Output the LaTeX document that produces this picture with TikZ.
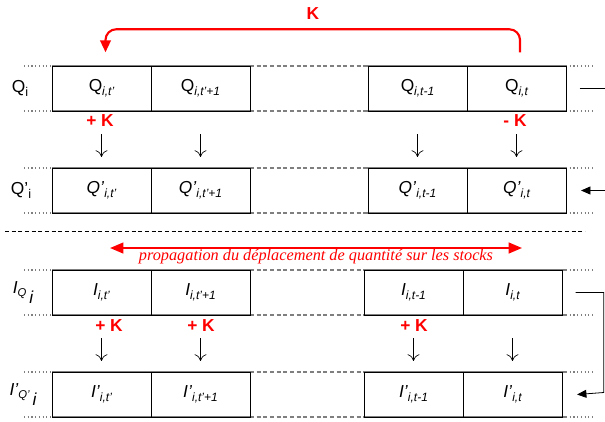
\documentclass[tikz,border=0pt]{standalone}
\usepackage{fontspec}
\setmainfont{Liberation Sans}
\newfontfamily\propfont{Liberation Serif}
\usetikzlibrary{arrows.meta, positioning}
\definecolor{kred}{HTML}{FF0000}
\definecolor{lgrey}{HTML}{7F7F7F}
\newcommand{\sub}[1]{\raisebox{-0.45ex}{\fontsize{9}{10}\selectfont\itshape #1}}
\tikzset{
  every picture/.style={line width=0.6pt},
  cell/.style={draw, minimum width=74.25pt, minimum height=33.75pt, inner sep=0pt, font=\fontsize{13}{15}\selectfont},
  rail/.style={draw=lgrey, line width=0.8pt},
  gap/.style={rail, dashed, dash pattern=on 3pt off 2pt},
  stub/.style={rail, dotted},
  down/.style={-{To[length=5pt, width=9pt]}, line width=0.5pt},
  knote/.style={text=kred, font=\fontsize{13}{15}\selectfont\bfseries},
  rlabel/.style={font=\fontsize{13}{15}\selectfont},
  loop/.style={-{Triangle[length=7pt, width=6pt]}, line width=0.6pt},
}
\begin{document}
\begin{tikzpicture}[x=0.75pt, y=-0.75pt]
  \useasboundingbox (0,0) rectangle (605,421);
  % rails of the four rows
  \foreach \t in {66,168,270,372} {
    \foreach \y in {\t,\t+45} {
      \draw[stub] (24,\y) -- (52,\y);
      \draw[rail] (52,\y) -- (250,\y);
      \draw[gap] (250,\y) -- (366,\y);
      \draw[rail] (366,\y) -- (566,\y);
      \draw[stub] (566,\y) -- (593,\y);
    }
  }
  % cells of the upper part
  \node[cell] (q1) at (101.5,88.5) {Q\sub{i,t'}};
  \node[cell] (q2) at (200.5,88.5) {Q\sub{i,t'+1}};
  \node[cell] (q3) at (417.5,88.5) {Q\sub{i,t-1}};
  \node[cell] (q4) at (516.5,88.5) {Q\sub{i,t}};
  \node[cell] (qp1) at (101.5,190.5) {\textit{Q’}\sub{i,t'}};
  \node[cell] (qp2) at (200.5,190.5) {\textit{Q’}\sub{i,t'+1}};
  \node[cell] (qp3) at (417.5,190.5) {\textit{Q’}\sub{i,t-1}};
  \node[cell] (qp4) at (516.5,190.5) {\textit{Q’}\sub{i,t}};
  % cells of the lower part
  \node[cell] (i1) at (101.5,292.5) {\textit{I}\sub{i,t'}};
  \node[cell] (i2) at (200.5,292.5) {\textit{I}\sub{i,t'+1}};
  \node[cell] (i3) at (413.5,292.5) {\textit{I}\sub{i,t-1}};
  \node[cell] (i4) at (512.5,292.5) {\textit{I}\sub{i,t}};
  \node[cell] (ip1) at (101.5,394.5) {\textit{I’}\sub{i,t'}};
  \node[cell] (ip2) at (200.5,394.5) {\textit{I’}\sub{i,t'+1}};
  \node[cell] (ip3) at (413.5,394.5) {\textit{I’}\sub{i,t-1}};
  \node[cell] (ip4) at (512.5,394.5) {\textit{I’}\sub{i,t}};
  % row names
  \node[rlabel] (lq) at (20,88.5) {Q\raisebox{-0.4ex}{\fontsize{9.5}{10}\selectfont i}};
  \node[rlabel] (lqp) at (21,190.5) {Q’\raisebox{-0.4ex}{\fontsize{9.5}{10}\selectfont i}};
  \node[rlabel] (li) at (23,292.5) {\itshape I\raisebox{-0.3ex}{\fontsize{8.5}{9}\selectfont Q}\,\raisebox{-1.1ex}{i}};
  \node[rlabel] (lip) at (23,394.5) {\itshape I’\raisebox{-0.3ex}{\fontsize{8.5}{9}\selectfont Q’}\,\raisebox{-1.1ex}{i}};
  % vertical moves
  \foreach \a/\b in {q1/qp1, q2/qp2, q3/qp3, q4/qp4, i1/ip1, i2/ip2, i3/ip3, i4/ip4}
    \draw[down, shorten <=17pt, shorten >=8pt] (\a.south) -- (\b.north);
  \node[knote] (kq1) at (100,121) {+ K};
  \node[knote] (kq4) at (515,121) {- K};
  \node[knote] (ki1) at (109,326) {+ K};
  \node[knote] (ki2) at (201,326) {+ K};
  \node[knote] (ki3) at (414,326) {+ K};
  % transfer of K
  \coordinate (kfrom) at ([yshift=10pt]q4.north -| 520,0);
  \coordinate (kto) at ([yshift=10pt]q1.north);
  \draw[kred, line width=1.6pt, rounded corners=8pt, -{Triangle[length=9pt, width=8pt]}]
    (kfrom) -- ++(0,-23) -| ([xshift=3pt]kto);
  \node[knote] (ktop) at (313,14) {K};
  % separator and propagation
  \coordinate (sepl) at (5,231);
  \coordinate (sepr) at (585,231);
  \draw[dashed, dash pattern=on 3pt off 2pt, line width=0.5pt] (sepl) -- (sepr);
  \coordinate (pl) at (110,248);
  \coordinate (pr) at (522,248);
  \draw[kred, line width=1.6pt, {Triangle[length=10pt, width=8pt]}-{Triangle[length=10pt, width=8pt]}] (pl) -- (pr);
  \node[text=kred, font=\propfont\itshape\fontsize{12.2}{14}\selectfont] (prop) at (316,257)
    {propagation du déplacement de quantité sur les stocks};
  % links on the right
  \coordinate (qout) at (605,88.5);
  \coordinate (qin) at (605,190.5);
  \draw ([xshift=10pt]q4.east) -- (qout);
  \draw[loop] (qin) -- ([xshift=11pt]qp4.east);
  \draw[loop] ([xshift=10pt]i4.east) -| ++(28,100) -- ([xshift=11pt]ip4.east);
\end{tikzpicture}
\end{document}
